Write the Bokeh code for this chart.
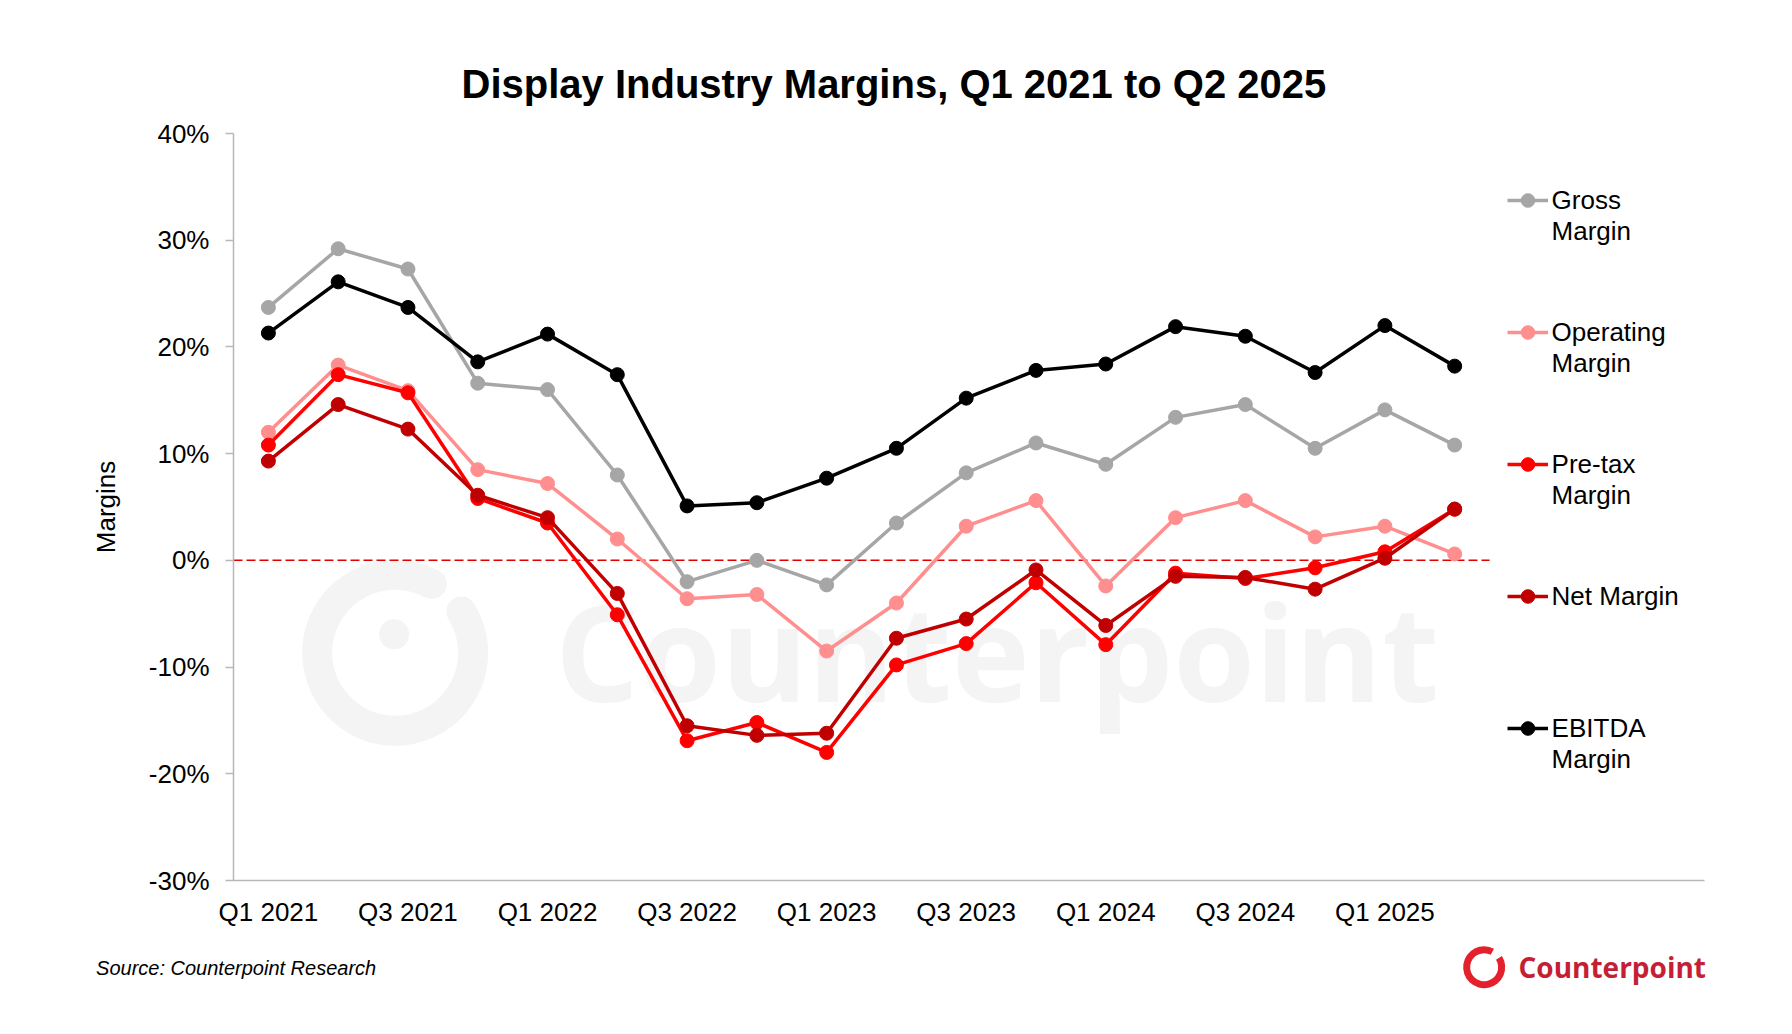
import math
from bokeh.plotting import figure
from bokeh.models import Range1d, FixedTicker, PrintfTickFormatter, Label, Legend, LegendItem
from bokeh.core.properties import value
from bokeh.embed import file_html
from bokeh.resources import INLINE

# quarterly margins (%)
quarters = ["Q1 2021", "Q2 2021", "Q3 2021", "Q4 2021",
            "Q1 2022", "Q2 2022", "Q3 2022", "Q4 2022",
            "Q1 2023", "Q2 2023", "Q3 2023", "Q4 2023",
            "Q1 2024", "Q2 2024", "Q3 2024", "Q4 2024",
            "Q1 2025", "Q2 2025"]
gross_margin = [23.7, 29.2, 27.3, 16.6, 16.0, 8.0, -2.0, 0.0, -2.3,
                3.5, 8.2, 11.0, 9.0, 13.4, 14.6, 10.5, 14.1, 10.8]
operating_margin = [12.0, 18.3, 15.9, 8.5, 7.2, 2.0, -3.6, -3.2, -8.5,
                    -4.0, 3.2, 5.6, -2.4, 4.0, 5.6, 2.2, 3.2, 0.6]
pretax_margin = [10.8, 17.4, 15.7, 5.8, 3.5, -5.1, -16.9, -15.2, -18.0,
                 -9.8, -7.8, -2.1, -7.9, -1.2, -1.7, -0.7, 0.8, 4.8]
net_margin = [9.3, 14.6, 12.3, 6.1, 4.0, -3.1, -15.5, -16.4, -16.2,
              -7.3, -5.5, -0.9, -6.1, -1.5, -1.6, -2.7, 0.2, 4.8]
ebitda_margin = [21.3, 26.1, 23.7, 18.6, 21.2, 17.4, 5.1, 5.4, 7.7,
                 10.5, 15.2, 17.8, 18.4, 21.9, 21.0, 17.6, 22.0, 18.2]
y_ticks = [-30, -20, -10, 0, 10, 20, 30, 40]

series = [
    ("Gross\nMargin", gross_margin, "#A6A6A6"),
    ("Operating\nMargin", operating_margin, "#FF8F8F"),
    ("Pre-tax\nMargin", pretax_margin, "#FF0000"),
    ("Net Margin", net_margin, "#C00000"),
    ("EBITDA\nMargin", ebitda_margin, "#000000"),
]

x = list(range(len(quarters)))
X_LO, X_HI = -0.5, 20.58
Y_LO, Y_HI = -30, 40

# frame edges in page pixels, used to place the decorations
FL, FR, FT, FB = 233.4, 1704.0, 132.8, 880.4
W, H = 1776, 1018


def sx(px):
    return px - FL


def sy(py):
    return FB - py


def dx(px):
    return X_LO + (px - FL) / (FR - FL) * (X_HI - X_LO)


def dy(py):
    return Y_LO + (FB - py) / (FB - FT) * (Y_HI - Y_LO)


FONT = "Liberation Sans"

p = figure(width=W, height=H, output_backend="svg", toolbar_location=None,
           x_range=Range1d(X_LO, X_HI), y_range=Range1d(Y_LO, Y_HI),
           min_border_left=round(FL), min_border_right=round(W - FR),
           min_border_top=round(FT), min_border_bottom=round(H - FB))
p.outline_line_color = None
p.grid.visible = False
p.background_fill_color = "white"
p.border_fill_color = "white"

p.title.text = "Display Industry Margins, Q1 2021 to Q2 2025"
p.title.align = "left"
p.title.offset = 228
p.title.standoff = 55
p.title.text_font = FONT
p.title.text_font_style = "bold"
p.title.text_font_size = "40px"
p.title.text_color = "black"

# faint watermark
wm = "#F4F4F4"
p.annular_wedge(dx(395), dy(652.5), inner_radius=63, outer_radius=93,
                inner_radius_units="screen", outer_radius_units="screen",
                start_angle=math.radians(62), end_angle=math.radians(32),
                fill_color=wm, line_color=None, level="underlay")
for ang in (62, 32):
    p.circle(dx(395 + 78 * math.cos(math.radians(ang))),
             dy(652.5 - 78 * math.sin(math.radians(ang))),
             radius=15, radius_units="screen", fill_color=wm, line_color=None,
             level="underlay")
p.circle(dx(394), dy(634), radius=15, radius_units="screen",
         fill_color=wm, line_color=None, level="underlay")
p.add_layout(Label(x=sx(555), y=sy(651), x_units="screen", y_units="screen",
                   text="Counterpoint", text_font="Open Sans", text_font_style="bold",
                   text_font_size="132px", text_color=wm, text_baseline="middle",
                   level="underlay"))

# zero line
p.line([X_LO, len(quarters) - 0.5], [0, 0], line_color="#E00000",
       line_width=1.5, line_dash="9 4")

items = []
for name, vals, color in series:
    r1 = p.line(x, vals, line_color=color, line_width=3.5)
    r2 = p.scatter(x, vals, size=14, fill_color=color, line_color=color)
    # blank first line keeps the key level with the first text line
    label = " \n" + name if "\n" in name else name
    items.append(LegendItem(label=label, renderers=[r1, r2]))

row_h, pitch = 96, 132
legend = Legend(items=items,
                location=(sx(1507), sy(200.8 - row_h / 2 + 5 * row_h + 4 * (pitch - row_h))))
legend.background_fill_alpha = 0
legend.border_line_color = None
legend.padding = 0
legend.margin = 0
legend.spacing = pitch - row_h
legend.glyph_width = 41
legend.glyph_height = 34
legend.label_height = row_h
legend.label_standoff = 4
legend.label_text_font = FONT
legend.label_text_font_size = "26px"
legend.label_text_color = "black"
p.add_layout(legend)

# axes
axis_gray = "#B7B7B7"
p.yaxis.ticker = FixedTicker(ticks=y_ticks)
p.yaxis.formatter = PrintfTickFormatter(format="%d%%")
p.yaxis.axis_line_color = axis_gray
p.yaxis.axis_line_width = 1.5
p.yaxis.major_tick_line_color = axis_gray
p.yaxis.major_tick_line_width = 1.5
p.yaxis.major_tick_out = 8
p.yaxis.major_tick_in = 0
p.yaxis.minor_tick_line_color = None
p.yaxis.major_label_standoff = 16
p.yaxis.major_label_text_font = FONT
p.yaxis.major_label_text_font_size = "26px"
p.yaxis.major_label_text_color = "black"
p.yaxis.axis_label = "Margins"
p.yaxis.axis_label_text_font = FONT
p.yaxis.axis_label_text_font_size = "26px"
p.yaxis.axis_label_text_font_style = "normal"
p.yaxis.axis_label_text_color = "black"
p.yaxis.axis_label_standoff = 25

p.xaxis.ticker = FixedTicker(ticks=x[::2])
p.xaxis.major_label_overrides = {i: quarters[i] for i in x[::2]}
p.xaxis.axis_line_color = axis_gray
p.xaxis.axis_line_width = 1.5
p.xaxis.major_tick_line_color = None
p.xaxis.major_tick_out = 0
p.xaxis.major_tick_in = 0
p.xaxis.minor_tick_line_color = None
p.xaxis.major_label_standoff = 16
p.xaxis.major_label_text_font = FONT
p.xaxis.major_label_text_font_size = "26px"
p.xaxis.major_label_text_color = "black"

# source and logo, drawn as overlay glyphs so they show outside the frame
p.text(x=[dx(96)], y=[dy(968)], text=["Source: Counterpoint Research"],
       text_font=value(FONT), text_font_style="italic", text_font_size="20px",
       text_color="black", text_baseline="middle", text_align="left", level="overlay")
logo_red = "#C41F35"
p.text(x=[dx(1518)], y=[dy(967)], text=["Counterpoint"],
       text_font=value("Open Sans"), text_font_style="bold", text_font_size="28px",
       text_color=logo_red, text_baseline="middle", text_align="left", level="overlay")
p.annular_wedge(dx(1483.7), dy(967.2), inner_radius=14, outer_radius=21,
                inner_radius_units="screen", outer_radius_units="screen",
                start_angle=math.radians(62), end_angle=math.radians(32),
                fill_color="#E3202B", line_color=None, level="overlay")
p.circle(dx(1482.7), dy(962.7), radius=3.5, radius_units="screen",
         fill_color="#E3202B", line_color=None, level="overlay")

open("out.html", "w").write(file_html(p, INLINE))
